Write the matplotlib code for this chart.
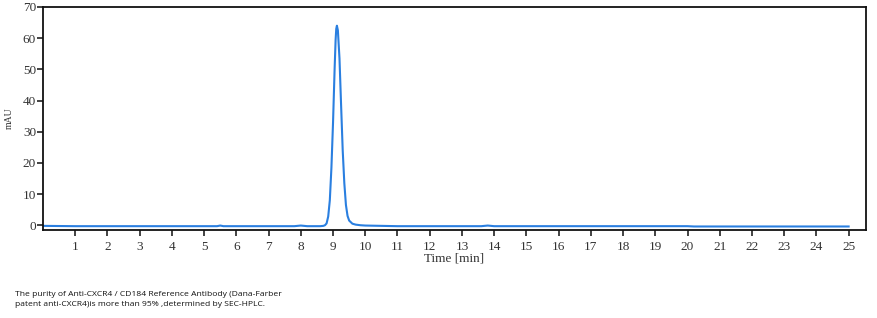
import matplotlib
matplotlib.use("Agg")
import matplotlib.pyplot as plt

# chromatogram trace (time in min, signal in mAU)
time_min = [0.0, 1.0, 2.0, 3.0, 4.0, 5.0, 5.4, 5.5, 5.6, 6.0, 7.0, 7.8, 8.0, 8.2,
            8.6, 8.70, 8.75, 8.80, 8.85, 8.90, 8.95, 9.00, 9.05, 9.08, 9.10,
            9.12, 9.15, 9.20, 9.25, 9.30, 9.35, 9.40, 9.45, 9.50, 9.60, 9.70,
            9.85, 10.0, 11.0, 12.0, 13.0, 13.6, 13.8, 14.0, 15.0, 16.0, 17.0,
            18.0, 19.0, 20.0, 20.2, 21.0, 22.0, 23.0, 24.0, 25.0]
signal_mau = [-0.2, -0.3, -0.3, -0.3, -0.3, -0.3, -0.3, -0.1, -0.3, -0.3, -0.3, -0.3, -0.1, -0.3,
              -0.3, -0.2, 0.0, 0.6, 2.8, 8.0, 18.5, 33.0, 50.5, 59.5, 63.0,
              64.0, 62.5, 53.5, 38.5, 24.0, 13.5, 6.5, 3.0, 1.5, 0.5, 0.2,
              0.0, -0.1, -0.3, -0.3, -0.3, -0.3, -0.1, -0.3, -0.3, -0.3, -0.3,
              -0.3, -0.3, -0.3, -0.4, -0.4, -0.4, -0.4, -0.4, -0.4]

x_ticks = list(range(1, 26))
y_ticks = list(range(0, 71, 10))

caption = ("The purity of Anti-CXCR4 / CD184 Reference Antibody (Dana-Farber\n"
           "patent anti-CXCR4)is more than 95% ,determined by SEC-HPLC.")

fig = plt.figure(figsize=(8.78, 3.18), dpi=100)
ax = fig.add_axes([0.049, 0.277, 0.937, 0.701])

ax.plot(time_min, signal_mau, color="#2a7fe0", lw=1.5, solid_joinstyle="round")

ax.set_xlim(0, 25.53)
ax.set_ylim(-1.5, 70)
ax.set_xticks(x_ticks)
ax.set_yticks(y_ticks)

serif = ["Liberation Serif", "DejaVu Serif"]
for lab in ax.get_xticklabels() + ax.get_yticklabels():
    lab.set_family(serif)
    lab.set_fontsize(9.5)
    lab.set_color("#333333")
ax.tick_params(axis="both", direction="out", length=4, width=1.2, color="#222222")
ax.tick_params(axis="x", pad=4)
ax.tick_params(axis="y", pad=1)
for s in ax.spines.values():
    s.set_linewidth(1.3)
    s.set_color("#111111")

ax.set_xlabel("Time [min]", family=serif, fontsize=9.5, color="#333333")
ax.xaxis.set_label_coords(0.5, -0.1)
ax.set_ylabel("mAU", family=serif, fontsize=7, color="#333333")
ax.yaxis.set_label_coords(-0.036, 0.5)

fig.text(0.017, 0.033, caption, fontsize=6.1, family=["Open Sans", "DejaVu Sans"],
         color="#111111", va="bottom", linespacing=1.6)

fig.savefig("out.png", dpi=100)
